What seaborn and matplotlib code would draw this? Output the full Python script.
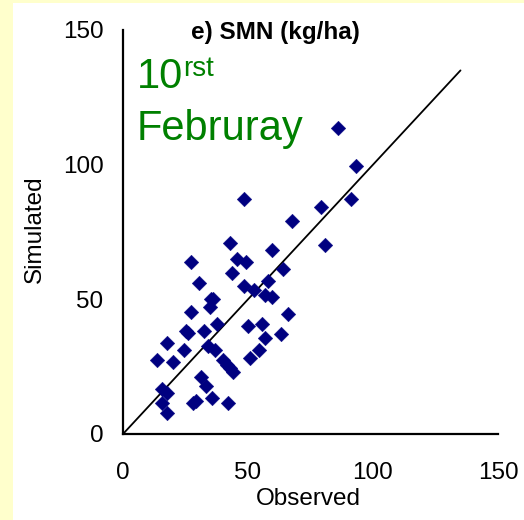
import matplotlib
matplotlib.use("Agg")
import matplotlib.pyplot as plt
import seaborn as sns
import pandas as pd
from matplotlib.patches import Rectangle

observed = [86.1, 93.2, 48.3, 91.3, 79.1, 67.6, 80.8, 42.7, 59.7, 27.1,
            45.5, 49.3, 43.7, 64.0, 30.5, 48.3, 52.5, 57.9, 56.9, 59.7,
            35.3, 34.8, 27.1, 65.9, 37.6, 50.1, 55.5, 25.2, 26.0, 32.4,
            63.2, 17.5, 56.9, 33.9, 36.8, 24.3, 54.5, 13.7, 19.9, 50.7,
            40.1, 41.5, 42.8, 44.0, 31.3, 15.6, 17.5, 33.3, 35.7, 15.6,
            27.9, 29.1, 41.9, 17.5, 36.0]
simulated = [113.7, 99.5, 87.1, 87.1, 84.4, 79.1, 70.2, 71.0, 68.3, 64.0,
             64.9, 64.0, 59.7, 61.4, 55.9, 55.1, 53.4, 56.9, 51.6, 50.8,
             50.1, 47.0, 45.3, 44.4, 40.8, 40.0, 40.8, 38.1, 37.4, 38.1,
             37.2, 33.8, 35.5, 32.8, 31.1, 31.1, 31.1, 27.5, 26.6, 28.3,
             27.5, 25.7, 24.4, 23.0, 21.3, 16.8, 15.1, 17.7, 13.2, 11.5,
             11.5, 12.4, 11.5, 7.9, 50.3]
line_x = [0, 135]
line_y = [0, 135]
ticks = [0, 50, 100, 150]

df = pd.DataFrame({"Observed": observed, "Simulated": simulated})

sns.set_style("white")
plt.rcParams["font.family"] = ["Liberation Sans", "DejaVu Sans"]
plt.rcParams["text.color"] = "black"
plt.rcParams["axes.labelcolor"] = "black"
plt.rcParams["xtick.color"] = "black"
plt.rcParams["ytick.color"] = "black"

W, H = 524, 520
fig = plt.figure(figsize=(W / 100, H / 100), dpi=100)
fig.patch.set_facecolor("white")
fig.patches.append(Rectangle((0, 0), 13 / W, 1, transform=fig.transFigure,
                             facecolor="#FFFFCC", edgecolor="none", zorder=-10))
fig.patches.append(Rectangle((0, 1 - 3 / H), 1, 3 / H, transform=fig.transFigure,
                             facecolor="#FFFFCC", edgecolor="none", zorder=-10))

ax = fig.add_axes([123 / W, 1 - 434 / H, (498 - 123) / W, (434 - 30) / H])
ax.set_facecolor("white")

sns.lineplot(x=line_x, y=line_y, ax=ax, color="black", linewidth=1.3)
sns.scatterplot(data=df, x="Observed", y="Simulated", ax=ax, marker="D",
                color="#000080", s=55, edgecolor="#000080", linewidth=0.3, zorder=3)

ax.set_xlim(0, 150)
ax.set_ylim(0, 150)
ax.set_xticks(ticks)
ax.set_yticks(ticks)
ax.set_xticklabels([str(t) for t in ticks])
ax.set_yticklabels([str(t) for t in ticks])
for s in ["top", "right"]:
    ax.spines[s].set_visible(False)
for s in ["left", "bottom"]:
    ax.spines[s].set_linewidth(1.6)
    ax.spines[s].set_color("black")
ax.tick_params(axis="both", direction="out", length=6, width=1.6, labelsize=17.5,
               colors="black", labelcolor="black")
ax.tick_params(axis="x", pad=14)
ax.tick_params(axis="y", pad=8)
ax.set_xlabel("")
ax.set_ylabel("")

fig.text(308 / W, 1 - 505 / H, "Observed", ha="center", va="baseline",
         fontsize=17.5, color="black")
fig.text(35 / W, 1 - 229 / H, "Simulated", ha="center", va="center", rotation=90,
         fontsize=17.5, color="black")
fig.text(275 / W, 1 - 39 / H, "e) SMN (kg/ha)", ha="center", va="baseline",
         fontsize=17.5, fontweight="bold", color="black")

green = "#008000"
t10 = fig.text(137 / W, 1 - 88 / H, "10", ha="left", va="baseline", fontsize=30,
               color=green)
ax.annotate("rst", xy=(1, 0), xycoords=t10, xytext=(0, 15), textcoords="offset points",
            ha="left", va="baseline", fontsize=20, color=green, annotation_clip=False)
fig.text(137 / W, 1 - 140 / H, "Februray", ha="left", va="baseline", fontsize=30,
         color=green)

fig.savefig("out.png", dpi=100)
